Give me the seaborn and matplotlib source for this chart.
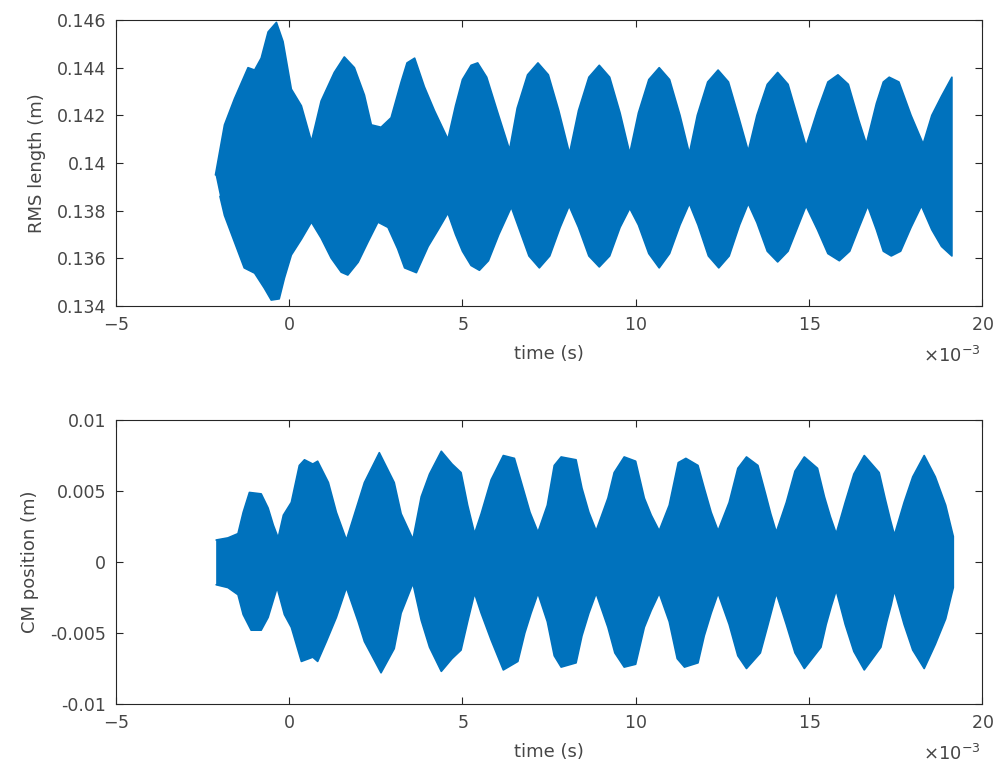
import numpy as np
import pandas as pd
import matplotlib
matplotlib.use("Agg")
import matplotlib.pyplot as plt
import matplotlib.ticker as mticker
import seaborn as sns

# envelope of the RMS length signal: (time in ms, value in m)
rms_upper = [(-2.13, 0.1395), (-1.87, 0.1416), (-1.58, 0.1427), (-1.19, 0.1440), (-1.0, 0.1439), (-0.81, 0.1444),
             (-0.61, 0.1455), (-0.37, 0.1459), (-0.18, 0.1451), (0.06, 0.1431), (0.35, 0.1424), (0.64, 0.1409),
             (0.92, 0.1426), (1.3, 0.1438), (1.59, 0.14445), (1.88, 0.1440), (2.17, 0.14285), (2.37, 0.1416),
             (2.65, 0.1415), (2.94, 0.1419), (3.23, 0.1434), (3.4, 0.1442), (3.62, 0.1444), (3.9, 0.1432),
             (4.19, 0.1422), (4.58, 0.1410), (4.8, 0.1424), (5.0, 0.1435), (5.25, 0.1441), (5.44, 0.1442),
             (5.7, 0.1436), (6.0, 0.1422), (6.36, 0.14055),
             (6.58, 0.1423), (6.88, 0.1437), (7.18, 0.1442), (7.48, 0.1437), (7.78, 0.1422), (8.09, 0.1404),
             (8.35, 0.1422), (8.65, 0.1436), (8.95, 0.1441), (9.25, 0.1436), (9.55, 0.1421), (9.83, 0.1404),
             (10.08, 0.1421), (10.38, 0.1435), (10.68, 0.1440), (10.98, 0.1435), (11.28, 0.1420), (11.55, 0.1404),
             (11.78, 0.1420), (12.08, 0.1434), (12.38, 0.1439), (12.68, 0.1434), (12.98, 0.1419), (13.25, 0.1405),
             (13.5, 0.1420), (13.8, 0.1433), (14.1, 0.1438), (14.4, 0.1433), (14.7, 0.1418), (14.92, 0.1407),
             (15.25, 0.1422), (15.55, 0.1434), (15.84, 0.1437), (16.14, 0.1433), (16.44, 0.1418), (16.66, 0.1408),
             (16.95, 0.1425), (17.15, 0.1434), (17.32, 0.1436), (17.6, 0.1434), (17.95, 0.1420), (18.3, 0.1408),
             (18.55, 0.1420), (18.83, 0.1428), (19.13, 0.1436)]
rms_lower = [(-2.0, 0.1386), (-1.87, 0.1378), (-1.58, 0.13668), (-1.3, 0.1356), (-1.0, 0.13538), (-0.72, 0.13475),
             (-0.52, 0.13425), (-0.29, 0.1343), (-0.14, 0.13517), (0.06, 0.13614), (0.35, 0.1368), (0.64, 0.13752),
             (0.92, 0.13685), (1.21, 0.13601), (1.5, 0.13542), (1.69, 0.1353), (1.99, 0.13584), (2.27, 0.13668),
             (2.56, 0.13752), (2.85, 0.1373), (3.13, 0.1364), (3.33, 0.1356), (3.67, 0.1354), (4.01, 0.1365),
             (4.3, 0.1372), (4.58, 0.1379), (4.8, 0.1370), (5.0, 0.1363), (5.25, 0.1357), (5.49, 0.1355),
             (5.75, 0.1359), (6.05, 0.1370), (6.41, 0.13815),
             (6.62, 0.1373), (6.92, 0.1361), (7.22, 0.1356), (7.52, 0.1361), (7.82, 0.1373), (8.08, 0.1382),
             (8.35, 0.1373), (8.65, 0.1361), (8.95, 0.13564), (9.25, 0.1361), (9.55, 0.1373), (9.83, 0.1381),
             (10.08, 0.1374), (10.38, 0.1362), (10.68, 0.1356), (10.98, 0.1362), (11.28, 0.1374), (11.55, 0.1383),
             (11.8, 0.1374), (12.1, 0.1361), (12.4, 0.1356), (12.7, 0.1361), (13.0, 0.1374), (13.25, 0.1383),
             (13.5, 0.1375), (13.8, 0.1363), (14.1, 0.13585), (14.4, 0.1363), (14.7, 0.1374), (14.92, 0.1382),
             (15.25, 0.1372), (15.55, 0.1362), (15.88, 0.1359), (16.18, 0.1363), (16.45, 0.1373), (16.7, 0.1382),
             (16.95, 0.1372), (17.15, 0.1363), (17.38, 0.1361), (17.65, 0.1363), (17.95, 0.1373), (18.25, 0.1382),
             (18.55, 0.1372), (18.83, 0.1365), (19.13, 0.1361)]

# envelope of the CM position signal: (time in ms, value in m)
cm_upper = [(-2.11, 0.00155), (-1.77, 0.0017), (-1.48, 0.0020), (-1.33, 0.0035), (-1.15, 0.0049), (-0.81, 0.0048),
            (-0.61, 0.0038), (-0.46, 0.0026), (-0.32, 0.0017), (-0.17, 0.0033), (0.06, 0.0042), (0.29, 0.0068),
            (0.44, 0.0072), (0.68, 0.0069), (0.82, 0.0071), (1.13, 0.0056), (1.36, 0.0035), (1.65, 0.00155),
            (1.99, 0.0042), (2.17, 0.0056), (2.6, 0.0077), (3.03, 0.0056), (3.23, 0.0034), (3.57, 0.0016),
            (3.81, 0.0046), (4.05, 0.0062), (4.39, 0.0078), (4.7, 0.0069), (4.96, 0.0063), (5.15, 0.0040),
            (5.35, 0.0020), (5.54, 0.0034), (5.83, 0.0058), (6.18, 0.0075), (6.5, 0.0073), (6.75, 0.0052),
            (6.95, 0.0035), (7.18, 0.0021),
            (7.45, 0.0040), (7.65, 0.0068), (7.85, 0.0074), (8.28, 0.0072), (8.45, 0.0052), (8.65, 0.0035), (8.86, 0.0022),
            (9.2, 0.0045), (9.38, 0.0063), (9.67, 0.0074), (10.0, 0.0071), (10.25, 0.0045), (10.45, 0.0033), (10.68, 0.0022),
            (10.97, 0.0040), (11.23, 0.0070), (11.45, 0.0073), (11.8, 0.0068), (11.98, 0.0052), (12.18, 0.0035), (12.38, 0.0022),
            (12.7, 0.0042), (12.95, 0.0066), (13.2, 0.0074), (13.53, 0.0068), (13.75, 0.0048), (13.9, 0.0034), (14.06, 0.0021),
            (14.35, 0.0042), (14.6, 0.0064), (14.87, 0.0074), (15.25, 0.0066), (15.45, 0.0046), (15.62, 0.0032), (15.79, 0.0020),
            (16.05, 0.0042), (16.3, 0.0062), (16.6, 0.0075), (17.03, 0.0063), (17.2, 0.0045), (17.35, 0.0030), (17.47, 0.0019),
            (17.75, 0.0042), (18.0, 0.0060), (18.33, 0.0075), (18.65, 0.0060), (18.95, 0.0040), (19.17, 0.0018)]
cm_lower = [(-2.11, -0.0016), (-1.77, -0.0018), (-1.48, -0.0023), (-1.33, -0.0037), (-1.1, -0.0048), (-0.81, -0.0048),
            (-0.61, -0.0039), (-0.35, -0.0018), (-0.14, -0.0037), (0.06, -0.0046), (0.35, -0.0070), (0.68, -0.0067),
            (0.82, -0.0070), (1.07, -0.0056), (1.36, -0.0039), (1.65, -0.0018), (1.99, -0.0042), (2.17, -0.0056),
            (2.65, -0.0078), (3.03, -0.0061), (3.23, -0.0036), (3.57, -0.0015), (3.81, -0.0041), (4.05, -0.0060),
            (4.39, -0.0077), (4.7, -0.0068), (4.96, -0.0062), (5.15, -0.0042), (5.35, -0.0022), (5.54, -0.0036),
            (5.83, -0.0055), (6.18, -0.0076), (6.6, -0.0070), (6.8, -0.0050), (6.98, -0.0036), (7.18, -0.0022),
            (7.45, -0.0042), (7.65, -0.0066), (7.85, -0.0074), (8.28, -0.0071), (8.45, -0.0052), (8.65, -0.0036), (8.86, -0.0022),
            (9.2, -0.0046), (9.4, -0.0064), (9.67, -0.0074), (10.0, -0.0072), (10.25, -0.0046), (10.45, -0.0034), (10.68, -0.0022),
            (10.97, -0.0042), (11.2, -0.0068), (11.41, -0.0074), (11.8, -0.0071), (11.98, -0.0052), (12.18, -0.0036), (12.38, -0.0022),
            (12.7, -0.0044), (12.95, -0.0066), (13.2, -0.0075), (13.6, -0.0064), (13.8, -0.0046), (13.93, -0.0034), (14.06, -0.0022),
            (14.35, -0.0044), (14.6, -0.0064), (14.87, -0.0075), (15.35, -0.0060), (15.5, -0.0044), (15.65, -0.0031), (15.79, -0.0020),
            (16.05, -0.0044), (16.3, -0.0063), (16.6, -0.0076), (17.08, -0.0060), (17.25, -0.0042), (17.38, -0.0030), (17.47, -0.0020),
            (17.75, -0.0044), (18.0, -0.0062), (18.33, -0.0075), (18.65, -0.0058), (18.95, -0.0040), (19.17, -0.0018)]

x_ticks = [-5, 0, 5, 10, 15, 20]
rms_ticks = [0.134, 0.136, 0.138, 0.14, 0.142, 0.144, 0.146]
cm_ticks = [-0.01, -0.005, 0, 0.005, 0.01]

sns.set_theme(style="ticks")
plt.rcParams['font.family'] = ['DejaVu Sans']
plt.rcParams['axes.unicode_minus'] = False
dark = '#262626'
txt = '#464646'
blue = '#0072BD'

fig = plt.figure(figsize=(9.97, 7.7), dpi=100)
ax1 = fig.add_axes([0.1164, 0.6026, 0.8686, 0.3714])
ax2 = fig.add_axes([0.1164, 0.0857, 0.8686, 0.3688])


def envelope(ax, upper, lower):
    # polygon: upper edge left to right, then lower edge back
    pts = list(upper) + list(lower)[::-1]
    df = pd.DataFrame(pts, columns=['t', 'v'])
    df['t'] = df['t'] * 1e-3
    ax.fill(df['t'], df['v'], color=blue, lw=0)
    sns.lineplot(data=df, x='t', y='v', sort=False, estimator=None, color=blue, lw=1.2, ax=ax)


envelope(ax1, rms_upper, rms_lower)
envelope(ax2, cm_upper, cm_lower)

for ax, yt, lab in [(ax1, rms_ticks, 'RMS length (m)'), (ax2, cm_ticks, 'CM position (m)')]:
    ax.set_xlim(-5e-3, 20e-3)
    ax.set_ylim(yt[0], yt[-1])
    ax.set_xticks(np.array(x_ticks) * 1e-3)
    ax.set_yticks(yt)
    fmt = mticker.ScalarFormatter(useMathText=True)
    fmt.set_powerlimits((-3, -3))
    ax.xaxis.set_major_formatter(fmt)
    ax.xaxis.get_offset_text().set_visible(False)
    ax.yaxis.set_major_formatter(mticker.FuncFormatter(lambda v, p: '{:g}'.format(round(v, 6))))
    ax.tick_params(direction='in', length=5, width=0.8, top=True, right=True,
                   labelsize=12.5, colors=dark, labelcolor=txt)
    ax.tick_params(axis='x', pad=7)
    ax.tick_params(axis='y', pad=7)
    for s in ax.spines.values():
        s.set_color(dark)
        s.set_linewidth(0.8)
    ax.set_xlabel('time (s)', fontsize=13, color=txt, labelpad=8)
    ax.set_ylabel(lab, fontsize=13, color=txt, labelpad=8)
    ax.annotate(r'$\times10^{-3}$', xy=(1, 0), xycoords='axes fraction', xytext=(-1, -29),
                textcoords='offset points', ha='right', va='top', fontsize=13, color=txt)
    ax.grid(False)

fig.savefig('out.png', dpi=100)
